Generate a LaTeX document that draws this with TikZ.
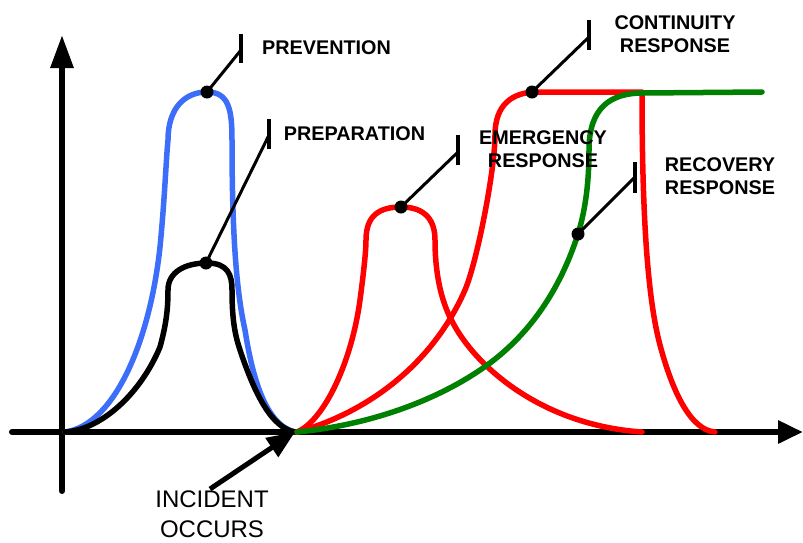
\documentclass[tikz,border=0pt]{standalone}
\usepackage{fontspec}
\setmainfont{Liberation Sans}
\usetikzlibrary{arrows.meta}
\definecolor{prevblue}{RGB}{60,110,250}
\definecolor{respred}{RGB}{255,0,0}
\definecolor{recgreen}{RGB}{0,128,0}
\begin{document}
\begin{tikzpicture}[x=1pt,y=-1pt,
  curve/.style={line width=5.5pt,line cap=round,line join=round},
  axis/.style={line width=6pt,line cap=round},
  leader/.style={line width=3pt},
  ticker/.style={line width=3.5pt},
  dotmark/.style={circle,fill=black,inner sep=0pt,minimum size=13pt},
  lab/.style={font=\fontsize{19.8}{23.5}\selectfont\bfseries,align=center,inner sep=0pt},
  plainlab/.style={font=\fontsize{24}{30}\selectfont,align=center,inner sep=0pt},
  ]
\useasboundingbox (0,0) rectangle (803,542);

% axes
\coordinate (xl) at (12,432);
\coordinate (xr) at (803,432);
\coordinate (yb) at (62,491);
\coordinate (yt) at (62,35);
\draw[axis,-{Triangle[length=25pt,width=22pt]}] (xl) -- (xr);
\draw[axis,-{Triangle[length=33pt,width=22pt]}] (yb) -- (yt);

% prevention (blue)
\draw[curve,prevblue] (65,432)
  .. controls (115,425) and (150,340) .. (160,247)
  .. controls (165,195) and (166,160) .. (168,140)
  .. controls (168,108) and (185,92) .. (207,92)
  .. controls (229,92) and (232,110) .. (232,140)
  .. controls (232,230) and (236,290) .. (245,330)
  .. controls (252,375) and (265,425) .. (295,432);

% preparation (black)
\draw[curve,black] (65,432)
  .. controls (100,430) and (140,395) .. (160,347)
  .. controls (166,325) and (168,310) .. (168,290)
  .. controls (168,272) and (185,263) .. (207,263)
  .. controls (228,263) and (232,275) .. (232,290)
  .. controls (232,320) and (235,335) .. (240,350)
  .. controls (255,395) and (272,428) .. (295,432);

% emergency response (red)
\draw[curve,respred] (297,432)
  .. controls (325,420) and (352,360) .. (360,300)
  .. controls (364,270) and (366,250) .. (366,240)
  .. controls (366,215) and (380,207) .. (401,207)
  .. controls (425,207) and (435,220) .. (435,240)
  .. controls (435,270) and (440,300) .. (453,323)
  .. controls (475,365) and (540,425) .. (642,432);

% continuity response (red)
\draw[curve,respred] (297,432)
  .. controls (360,415) and (430,370) .. (465,290)
  .. controls (477,262) and (495,170) .. (495,135)
  .. controls (495,105) and (512,92) .. (537,92)
  -- (642,92)
  .. controls (642,220) and (648,300) .. (660,345)
  .. controls (672,390) and (690,430) .. (715,432);

% recovery response (green)
\draw[curve,recgreen] (297,432)
  .. controls (370,425) and (440,400) .. (490,363)
  .. controls (530,333) and (560,290) .. (578,234)
  .. controls (586,208) and (589,180) .. (589,150)
  .. controls (589,108) and (610,93) .. (643,93)
  -- (762,92);

% marker dots
\node[dotmark] (dprev) at (207,92) {};
\node[dotmark] (dprep) at (206,263) {};
\node[dotmark] (demer) at (401,207) {};
\node[dotmark] (dcont) at (532,92) {};
\node[dotmark] (drec) at (578,234) {};

% tick ends and joins of the leaders
\coordinate (tprevA) at (241,34);  \coordinate (tprevB) at (241,63);  \coordinate (tprevM) at (241,50);
\coordinate (tprepA) at (269,119); \coordinate (tprepB) at (269,149); \coordinate (tprepM) at (269,135);
\coordinate (temerA) at (458,135); \coordinate (temerB) at (458,165); \coordinate (temerM) at (458,152);
\coordinate (tcontA) at (589,20);  \coordinate (tcontB) at (589,50);  \coordinate (tcontM) at (589,37);
\coordinate (trecA) at (635,162);  \coordinate (trecB) at (635,193);  \coordinate (trecM) at (635,177);

\foreach \t in {prev,prep,emer,cont,rec}{
  \draw[ticker] (t\t A) -- (t\t B);
  \draw[leader] (d\t.center) -- (t\t M);
}

% labels
\node[lab] (lprev) at (326.5,48) {PREVENTION};
\node[lab] (lprep) at (354.5,134) {PREPARATION};
\node[lab] (lemer) at (543,149) {EMERGENCY\\RESPONSE};
\node[lab] (lcont) at (675,34) {CONTINUITY\\RESPONSE};
\node[lab] (lrec) at (720,176) {RECOVERY\\RESPONSE};
\node[plainlab] (linc) at (212,514) {INCIDENT\\OCCURS};

% incident arrow
\coordinate (itail) at (210,489);
\coordinate (ihead) at (295,432);
\draw[line width=5pt,-{Triangle[length=28pt,width=22pt]}] (itail) -- (ihead);
\end{tikzpicture}
\end{document}
